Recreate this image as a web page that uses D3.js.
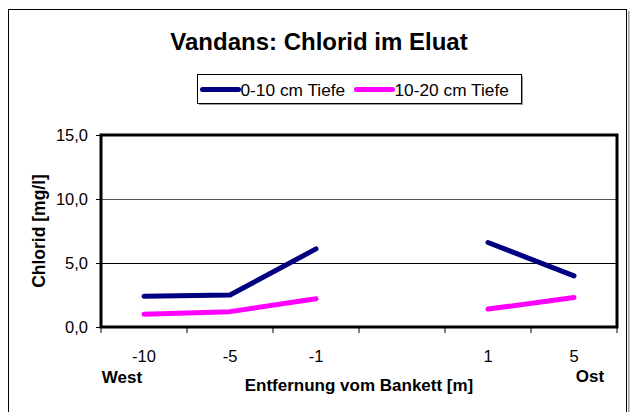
<!DOCTYPE html>
<html>
<head>
<meta charset="utf-8">
<script src="https://cdn.jsdelivr.net/npm/d3@7"></script>
<style>
  body { margin: 0; background: #fff; }
  text { font-family: "Liberation Sans", Arial, sans-serif; }
</style>
</head>
<body>
<script>
// Chart data
const categories = ["-10", "-5", "-1", "", "1", "5"];
const depth0to10 = [2.4, 2.5, 6.1, null, 6.6, 4.0];
const depth10to20 = [1.0, 1.2, 2.2, null, 1.4, 2.3];
const yTicks = [0, 5, 10, 15];

const seriesList = [
  { name: "0-10 cm Tiefe", color: "#000080", values: depth0to10 },
  { name: "10-20 cm Tiefe", color: "#ff00ff", values: depth10to20 },
];

const fullWidth = 632;
const fullHeight = 412;
const plot = { left: 101, right: 617, top: 135, bottom: 327 };

const svg = d3
  .select("body")
  .append("svg")
  .attr("width", fullWidth)
  .attr("height", fullHeight);

// Outer chart frame (with a light shadow on the right)
svg
  .append("rect")
  .attr("x", 628)
  .attr("y", 11)
  .attr("width", 1.5)
  .attr("height", 410)
  .attr("fill", "#999");

svg
  .append("rect")
  .attr("x", 8.5)
  .attr("y", 9.5)
  .attr("width", 618)
  .attr("height", 410)
  .attr("fill", "#fff")
  .attr("stroke", "#000")
  .attr("stroke-width", 1);

// Title
svg
  .append("text")
  .attr("x", 319)
  .attr("y", 50)
  .attr("text-anchor", "middle")
  .style("font-size", "24px")
  .style("font-weight", "bold")
  .text("Vandans: Chlorid im Eluat");

// Scales
const x = d3
  .scaleBand()
  .domain(d3.range(categories.length))
  .range([plot.left, plot.right]);

const y = d3.scaleLinear().domain([0, 15]).range([plot.bottom, plot.top]);

// Gridlines
svg
  .append("g")
  .selectAll("line")
  .data(yTicks.filter((t) => t > 0 && t < 15))
  .enter()
  .append("line")
  .attr("x1", plot.left)
  .attr("x2", plot.right)
  .attr("y1", (d) => Math.round(y(d)) + 0.5)
  .attr("y2", (d) => Math.round(y(d)) + 0.5)
  .attr("stroke", (d) => (d === 10 ? "#555" : "#000"))
  .attr("stroke-width", 1);

// Y axis
const yAxis = d3
  .axisLeft(y)
  .tickValues(yTicks)
  .tickSize(5)
  .tickSizeOuter(0)
  .tickFormat((d) => d3.format(".1f")(d).replace(".", ","));

svg
  .append("g")
  .attr("transform", `translate(${plot.left},0)`)
  .call(yAxis)
  .call((g) => g.select(".domain").remove())
  .call((g) => g.selectAll("line").attr("stroke", "#000"))
  .call((g) =>
    g
      .selectAll("text")
      .attr("x", -13)
      .style("font-size", "16.5px")
      .style("font-family", "Liberation Sans, Arial, sans-serif")
      .attr("fill", "#000")
  );

// X axis (ticks at band edges)
const xEdges = d3.range(categories.length + 1).map((i) => plot.left + i * x.step());
svg
  .append("g")
  .selectAll("line")
  .data(xEdges)
  .enter()
  .append("line")
  .attr("x1", (d) => d)
  .attr("x2", (d) => d)
  .attr("y1", plot.bottom)
  .attr("y2", plot.bottom + 6)
  .attr("stroke", "#000");

svg
  .append("g")
  .selectAll("text")
  .data(categories)
  .enter()
  .append("text")
  .attr("x", (d, i) => x(i) + x.bandwidth() / 2)
  .attr("y", 362)
  .attr("text-anchor", "middle")
  .style("font-size", "16.5px")
  .text((d) => d);

// Series lines
const line = d3
  .line()
  .defined((d) => d != null)
  .x((d, i) => x(i) + x.bandwidth() / 2)
  .y((d) => y(d));

svg
  .append("g")
  .selectAll("path")
  .data(seriesList)
  .enter()
  .append("path")
  .attr("d", (s) => line(s.values))
  .attr("fill", "none")
  .attr("stroke", (s) => s.color)
  .attr("stroke-width", 5)
  .attr("stroke-linecap", "round")
  .attr("stroke-linejoin", "round");

// Plot area border
svg
  .append("rect")
  .attr("x", plot.left)
  .attr("y", plot.top)
  .attr("width", plot.right - plot.left)
  .attr("height", plot.bottom - plot.top)
  .attr("fill", "none")
  .attr("stroke", "#000")
  .attr("stroke-width", 3);

// Axis titles
svg
  .append("text")
  .attr("transform", `translate(45, 231) rotate(-90)`)
  .attr("text-anchor", "middle")
  .style("font-size", "17.5px")
  .style("font-weight", "bold")
  .text("Chlorid [mg/l]");

svg
  .append("text")
  .attr("x", 359)
  .attr("y", 391)
  .attr("text-anchor", "middle")
  .style("font-size", "17px")
  .style("font-weight", "bold")
  .text("Entfernung vom Bankett [m]");

svg
  .append("text")
  .attr("x", 122)
  .attr("y", 383)
  .attr("text-anchor", "middle")
  .style("font-size", "17px")
  .style("font-weight", "bold")
  .text("West");

svg
  .append("text")
  .attr("x", 590)
  .attr("y", 382)
  .attr("text-anchor", "middle")
  .style("font-size", "17px")
  .style("font-weight", "bold")
  .text("Ost");

// Legend
const legend = svg.append("g").attr("transform", "translate(197.5, 74.5)");

legend
  .append("rect")
  .attr("x", 1.5)
  .attr("y", 1.5)
  .attr("width", 324)
  .attr("height", 29)
  .attr("fill", "#999");

legend
  .append("rect")
  .attr("width", 324)
  .attr("height", 29)
  .attr("fill", "#fff")
  .attr("stroke", "#000")
  .attr("stroke-width", 1);

const legendX = [5, 159];
const legendItems = legend
  .selectAll(".item")
  .data(seriesList)
  .enter()
  .append("g")
  .attr("class", "item")
  .attr("transform", (d, i) => `translate(${legendX[i]}, 15)`);

legendItems
  .append("line")
  .attr("x1", 0)
  .attr("x2", 36)
  .attr("stroke", (d) => d.color)
  .attr("stroke-width", 5)
  .attr("stroke-linecap", "round");

legendItems
  .append("text")
  .attr("x", 38)
  .attr("y", 6)
  .style("font-size", "17.3px")
  .text((d) => d.name);
</script>
</body>
</html>
